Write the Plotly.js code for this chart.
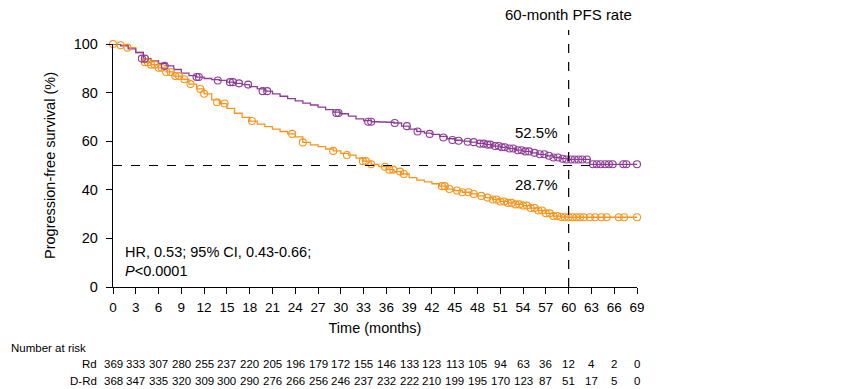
<!DOCTYPE html>
<html>
<head>
<meta charset="utf-8">
<script src="https://cdn.plot.ly/plotly-3.0.1.min.js"></script>
<style>html,body{margin:0;padding:0;background:#fff}#chart{width:860px;height:389px}</style>
</head>
<body>
<div id="chart"></div>
<script>
// D-Rd Kaplan-Meier curve (months, PFS %)
const drdTime = [0,1,2,3,4,5,6,7,8,9,10,11,12,13,14,15,16,17,18,19,20,21,22,23,24,25,26,27,28,29,30,31,32,33,34,35,36,37,38,39,40,41,42,43,44,45,46,47,48,49,50,51,52,53,54,55,56,57,58,59,60,62.8,69];
const drdPFS  = [100,99.2,98,96.5,94,93,92,91,89.5,88,87,86.4,85.8,85.3,85,84.3,83.8,83.3,82.5,81.5,80.6,79.5,78.5,77.5,76.6,75.7,74.9,74,73,72,71.3,70.3,69.2,68.5,68,67.9,67.8,67.5,66.2,65,64,63.3,62.8,62,61,60.4,60,59.6,59.1,58.6,58,57.5,57,56.3,55.8,55.2,54.6,54,53.3,52.8,52.5,50.5,50.5];
// Rd Kaplan-Meier curve
const rdTime = [0,1,2,3,4,5,6,7,8,9,10,11,12,13,14,15,16,17,18,19,20,21,22,23,24,25,26,27,28,29,30,31,32,33,34,35,36,37,38,39,40,41,42,43,44,45,46,47,48,49,50,51,52,53,54,55,56,57,58,59,60,69];
const rdPFS  = [100,99.5,98.5,96.5,92.5,91.5,90.2,88.5,86.8,85.5,83.5,81.5,79.5,77,75.5,73.5,71.5,69.8,68.3,67,66,65,64,63,61.8,59.5,58.5,57.8,56.8,56,55,54.3,53,51.8,50.5,49.5,48.3,47.5,46.5,45,44,43.3,42.5,41.5,40.3,39.7,39,38.3,37.5,36.8,36,35.2,34.6,34,33.5,32.5,31.5,30.3,29.2,28.8,28.7,28.7];
// Censoring marks
const drdCensT = [3.8,4.2,6.8,11,11.3,13.8,15.4,15.8,16.6,17.8,19.7,20.3,29.4,29.7,33.6,34,37.1,38.7,40.1,41.7,43.5,44.7,45.5,46.7,47.5,48.3,48.8,49.3,49.7,50.3,50.8,51.2,51.6,52.2,52.7,53.3,53.8,54.3,54.8,55.5,56.2,56.8,57.4,58,58.6,59.2,59.7,60.3,60.8,61.3,61.8,62.4,63.2,63.7,64.2,64.8,65.3,65.8,67.2,67.6,69];
const drdCensS = [94,94,91,86.4,86.4,85,84.3,84.3,83.8,83.3,80.6,80.6,71.6,71.6,68,68,67.5,66.2,64,63,61.5,60.5,60.2,59.8,59.6,59,59,58.6,58.6,58,58,57.5,57.5,57,57,56.3,56.3,55.8,55.8,55.2,54.6,54.6,54,53.3,53.3,52.8,52.5,52.5,52.5,52.5,52.5,52.5,50.5,50.5,50.5,50.5,50.5,50.5,50.5,50.5,50.5];
const rdCensT = [0,1,1.9,4.2,4.6,5,5.5,6,6.4,7,7.6,8.2,8.7,9.4,10.2,11.5,12,13.7,14.7,18.3,23.6,25,29,30.8,32.9,33.3,34,35.8,36.4,36.9,37.8,38.3,43.3,43.7,44.3,45.3,46,46.8,47.5,48.5,49.3,50,50.5,51,51.5,52,52.5,53,53.5,54,54.5,55,55.5,56,56.5,57,57.5,58,58.5,59,59.5,60,60.5,61,61.5,62,62.8,63.5,64.3,65,66.6,67.3,69];
const rdCensS = [100,99.5,98.5,92.5,92.5,91.5,91.5,90.2,90.2,88.5,88.5,86.8,86.8,85.5,83.5,81.5,79.5,76,75.5,68.3,63,59.5,56,54.3,51.8,51.8,50.5,49.5,48.3,48.3,47.5,46.5,41.5,41.5,40.3,39.7,39,39,38.3,37.5,36.8,36,36,35.2,35.2,34.6,34.6,34,34,33.5,33.5,32.5,32.5,31.5,31.5,30.3,30.3,29.2,29.2,28.8,28.7,28.7,28.7,28.7,28.7,28.7,28.7,28.7,28.7,28.7,28.7,28.7,28.7];
// Risk table
const riskTimes = [0,3,6,9,12,15,18,21,24,27,30,33,36,39,42,45,48,51,54,57,60,63,66,69];
const riskRd  = [369,333,307,280,255,237,220,205,196,179,172,155,146,133,123,113,105,94,63,36,12,4,2,0];
const riskDRd = [368,347,335,320,309,300,290,276,266,256,246,237,232,222,210,199,195,170,123,87,51,17,5,0];
const xTicks = [0,3,6,9,12,15,18,21,24,27,30,33,36,39,42,45,48,51,54,57,60,63,66,69];
const yTicks = [0,20,40,60,80,100];

const purple = '#8E3C97';
const orange = '#F7941D';
const font = 'Liberation Sans, Arial, sans-serif';

const traces = [
  {x: rdTime, y: rdPFS, mode: 'lines', line: {color: orange, width: 1.3, shape: 'hv'}, hoverinfo: 'skip', cliponaxis: false},
  {x: drdTime, y: drdPFS, mode: 'lines', line: {color: purple, width: 1.3, shape: 'hv'}, hoverinfo: 'skip', cliponaxis: false},
  {x: rdCensT, y: rdCensS, mode: 'markers', marker: {symbol: 'circle-open', size: 7, color: orange, line: {width: 1.1}}, cliponaxis: false},
  {x: drdCensT, y: drdCensS, mode: 'markers', marker: {symbol: 'circle-open', size: 7, color: purple, line: {width: 1.1}}, cliponaxis: false}
];

const ann = [];
const pxToPaper = p => (287 - p) / 243;
const pxToPaperX = p => (p - 113) / 524;
const riskFont = {family: font, size: 11.5, color: '#000'};
ann.push({xref: 'paper', yref: 'paper', x: pxToPaperX(9), y: pxToPaper(348), xanchor: 'left', yanchor: 'middle', text: 'Number at risk', showarrow: false, font: riskFont});
ann.push({xref: 'paper', yref: 'paper', x: pxToPaperX(99), y: pxToPaper(364), xanchor: 'right', yanchor: 'middle', text: 'Rd', showarrow: false, font: riskFont});
ann.push({xref: 'paper', yref: 'paper', x: pxToPaperX(99), y: pxToPaper(381), xanchor: 'right', yanchor: 'middle', text: 'D-Rd', showarrow: false, font: riskFont});
riskTimes.forEach((t, i) => {
  ann.push({xref: 'x', yref: 'paper', x: t, y: pxToPaper(364), xanchor: 'center', yanchor: 'middle', text: String(riskRd[i]), showarrow: false, font: riskFont});
  ann.push({xref: 'x', yref: 'paper', x: t, y: pxToPaper(381), xanchor: 'center', yanchor: 'middle', text: String(riskDRd[i]), showarrow: false, font: riskFont});
});
ann.push({xref: 'x', yref: 'paper', x: 60, y: pxToPaper(15), xanchor: 'center', yanchor: 'middle', text: '60-month PFS rate', showarrow: false, font: {family: font, size: 15, color: '#000'}});
ann.push({xref: 'x', yref: 'y', x: 55.8, y: 63.4, xanchor: 'center', yanchor: 'middle', text: '52.5%', showarrow: false, font: {family: font, size: 15, color: '#000'}});
ann.push({xref: 'x', yref: 'y', x: 55.8, y: 42, xanchor: 'center', yanchor: 'middle', text: '28.7%', showarrow: false, font: {family: font, size: 15, color: '#000'}});
ann.push({xref: 'x', yref: 'y', x: 69.6, y: 50.5, xanchor: 'left', yanchor: 'middle', text: 'D-Rd: median NR', showarrow: false, font: {family: font, size: 15, color: '#000'}});
ann.push({xref: 'x', yref: 'y', x: 69.6, y: 28.7, xanchor: 'left', yanchor: 'middle', text: 'Rd: median 34.4 months', showarrow: false, font: {family: font, size: 15, color: '#000'}});
ann.push({xref: 'x', yref: 'y', x: 1.3, y: 10.5, xanchor: 'left', yanchor: 'middle', align: 'left', text: 'HR, 0.53; 95% CI, 0.43-0.66;<br><i>P</i><0.0001', showarrow: false, font: {family: font, size: 14.5, color: '#000'}});

const layout = {
  width: 860, height: 389,
  margin: {l: 113, r: 223, t: 44, b: 102, pad: 0},
  paper_bgcolor: '#fff', plot_bgcolor: '#fff',
  showlegend: false,
  font: {family: font, color: '#000'},
  xaxis: {range: [0, 69], tickvals: xTicks, ticktext: xTicks.map(String), showgrid: false, zeroline: false,
          showline: true, linecolor: '#000', linewidth: 1.2, ticks: 'outside', ticklen: 6, tickcolor: '#000', tickwidth: 1,
          ticklabelstandoff: 2,
          tickfont: {family: font, size: 13.5, color: '#000'},
          title: {text: 'Time (months)', font: {family: font, size: 14.5, color: '#000'}, standoff: 8}},
  yaxis: {range: [0, 100], tickvals: yTicks, ticktext: yTicks.map(String), showgrid: false, zeroline: false,
          showline: true, linecolor: '#000', linewidth: 1.2, ticks: 'outside', ticklen: 6, tickcolor: '#000', tickwidth: 1,
          ticklabelstandoff: 5,
          tickfont: {family: font, size: 14.5, color: '#000'},
          title: {text: 'Progression-free survival (%)', font: {family: font, size: 14.5, color: '#000'}, standoff: 14}},
  shapes: [
    {type: 'line', xref: 'x', yref: 'paper', x0: 60, x1: 60, y0: 0, y1: pxToPaper(30), line: {color: '#000', width: 1.2, dash: 'dash'}},
    {type: 'line', xref: 'x', yref: 'y', x0: 0, x1: 62.8, y0: 50, y1: 50, line: {color: '#000', width: 1.2, dash: 'dash'}}
  ],
  annotations: ann
};

Plotly.newPlot('chart', traces, layout, {displayModeBar: false, staticPlot: true});
</script>
</body>
</html>
